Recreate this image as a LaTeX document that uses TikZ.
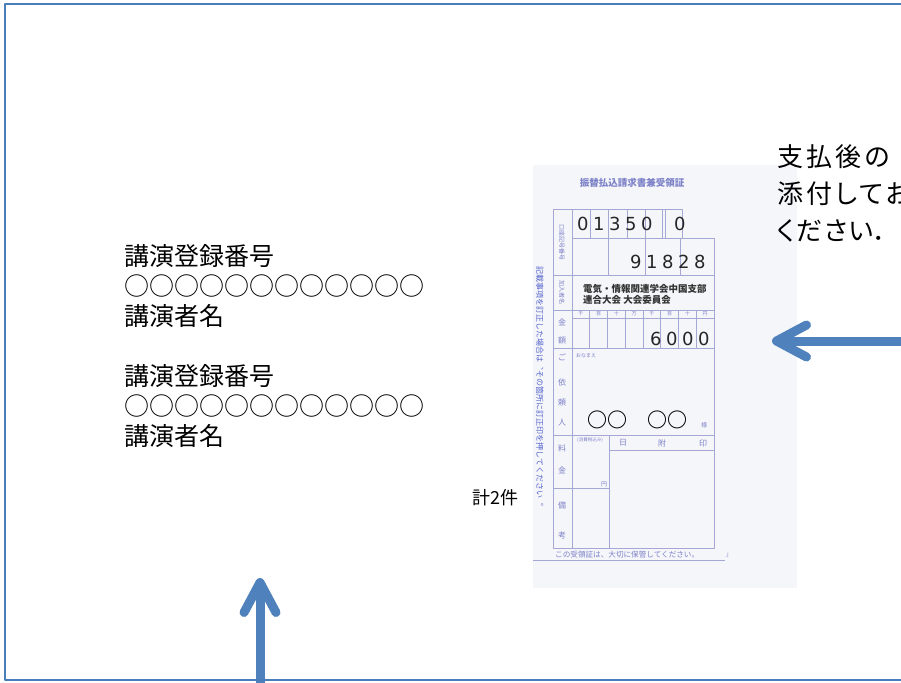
\documentclass[tikz,border=0pt]{standalone}
\usepackage{fontspec}
\setmainfont{Noto Sans CJK JP}
\newfontfamily\jpp[RawFeature=+palt, LetterSpace=12]{Noto Sans CJK JP}
\newfontfamily\jpq[RawFeature=+palt, LetterSpace=5]{Noto Sans CJK JP}
\newfontfamily\jpv[Vertical=RotatedGlyphs, RawFeature=+vert]{Noto Sans CJK JP}
\newfontfamily\numfont[LetterSpace=25]{DejaVu Sans}
\usetikzlibrary{arrows.meta}
\definecolor{frameblue}{RGB}{74,126,187}
\definecolor{arrowblue}{RGB}{79,129,189}
\definecolor{paper}{RGB}{245,246,250}
\definecolor{formline}{RGB}{165,168,212}
\definecolor{formtxt}{RGB}{125,130,200}
\definecolor{noteblue}{RGB}{85,100,205}

\begin{document}
\begin{tikzpicture}[x=1pt, y=-1pt, line join=round,
    frm/.style={draw=frameblue, line width=2pt},
    bigarrow/.style={draw=arrowblue, line width=9pt, -{Straight Barb[length=30pt, width=32pt, round]}},
    lbl/.style={inner sep=0pt, anchor=base west, font=\fontsize{25}{30}\selectfont},
    msg/.style={inner sep=0pt, anchor=base west, font=\jpp\fontsize{26}{30}\selectfont},
    cnt/.style={inner sep=0pt, anchor=base west, font=\fontsize{18}{20}\selectfont},
    grid/.style={draw=formline, line width=0.8pt},
    tag/.style={inner sep=0pt, text=formtxt, font=\fontsize{8}{8}\selectfont},
    vtag/.style={inner sep=0pt, text=formtxt, rotate=-90, font=\jpv\fontsize{6}{6}\selectfont},
    num/.style={inner sep=0pt, anchor=base west, text=black!85, font=\numfont\fontsize{18}{18}\selectfont},
    addr/.style={inner sep=0pt, anchor=base west, text=black!80, font=\bfseries\fontsize{9.5}{9.5}\selectfont}]
    \useasboundingbox (0,0) rectangle (901,682);
    \clip (0,0) rectangle (901,682);
    \fill[white] (0,0) rectangle (901,682);
    \fill[paper] (533,165) rectangle (797,588);

    \node[tag, font=\bfseries\fontsize{9.5}{9.5}\selectfont] (title) at (632,183) {振替払込請求書兼受領証};

    \draw[grid] (553,209) -- (682,209) -- (682,238) -- (714,238) -- (714,548) -- (553,548) -- cycle;
    \draw[grid] (572,209) -- (572,548);
    \draw[grid] (572,238) -- (682,238);
    \draw[grid] (553,275) -- (714,275);
    \draw[grid] (553,310) -- (714,310);
    \draw[grid] (572,318) -- (714,318);
    \draw[grid] (553,348) -- (714,348);
    \draw[grid] (553,435) -- (714,435);
    \draw[grid] (553,488) -- (609,488);
    \draw[grid] (609,435) -- (609,548);
    \draw[grid] (609,450) -- (714,450);
    \foreach \x in {590,608,627,645,662,665}
        \draw[grid] (\x,209) -- (\x,238);
    \foreach \x in {608,645,680}
        \draw[grid] (\x,238) -- (\x,275);
    \foreach \k in {1,...,7}
        \draw[grid] (572+17.75*\k,310) -- (572+17.75*\k,348);

    \node[vtag] (acct) at (562,242) {口座記号番号};
    \node[vtag] (payee) at (562,292) {加入者名};
    \node[tag] (kin1) at (562,322) {金};
    \node[tag] (gaku) at (562,340) {額};
    \node[tag] (go) at (562,357) {ご};
    \node[tag] (irai1) at (562,382) {依};
    \node[tag] (irai2) at (562,402) {頼};
    \node[tag] (irai3) at (562,423) {人};
    \node[tag] (ryo) at (562,448) {料};
    \node[tag] (kin2) at (562,470) {金};
    \node[tag] (bi) at (562,505) {備};
    \node[tag] (ko) at (562,535) {考};
    \foreach \u [count=\k from 0] in {千,百,十,万,千,百,十,円}
        \node[tag, font=\fontsize{5}{5}\selectfont] (unit\k) at (580.9+17.75*\k,314) {\u};
    \node[tag, anchor=west, font=\fontsize{5}{5}\selectfont] (yomi) at (576,356) {おなまえ};
    \node[tag, font=\fontsize{6}{6}\selectfont] (sama) at (704,425) {様};
    \node[tag, font=\fontsize{4.5}{4.5}\selectfont] (tax) at (590,440) {(消費税込み)};
    \node[tag, font=\fontsize{6}{6}\selectfont] (yen) at (604,484) {円};
    \node[tag] (hi) at (623,443) {日};
    \node[tag] (fu) at (662,443) {附};
    \node[tag] (in) at (703,443) {印};
    \node[tag, rotate=-90, text=noteblue, font=\jpv\fontsize{8}{8}\selectfont] (note) at (540,386) {記載事項を訂正した場合は、その箇所に訂正印を押してください。};
    \node[tag, anchor=west, font=\fontsize{7.6}{7.6}\selectfont] (keep) at (555,555) {この受領証は、大切に保管してください。};
    \draw[grid] (533,560) -- (725,560);
    \node[tag, font=\fontsize{6}{6}\selectfont] (hook) at (729,555) {」};

    \node[num] (d1) at (577,230) {01350};
    \node[num] (d2) at (674,230) {0};
    \node[num] (d3) at (630,268) {91828};
    \node[num] (d4) at (650,345) {6000};
    \node[addr] (a1) at (583,292) {電気・情報関連学会中国支部};
    \node[addr] (a2) at (583,303) {連合大会\ 大会委員会};
    \node[inner sep=0pt, anchor=base west, font=\bfseries\fontsize{20}{20}\selectfont] (who) at (587,427) {○○　○○};

    \node[lbl] (n1) at (124,265) {講演登録番号};
    \node[lbl] (c1) at (124,295) {○○○○○○○○○○○○};
    \node[lbl] (s1) at (124,325) {講演者名};
    \node[lbl] (n2) at (124,385) {講演登録番号};
    \node[lbl] (c2) at (124,415) {○○○○○○○○○○○○};
    \node[lbl] (s2) at (124,445) {講演者名};

    \node[cnt] (total) at (472,504) {計2件};

    \node[msg] (m1) at (777,166) {支払後の};
    \node[msg] (m2) at (777,203) {添付してお};
    \node[msg, font=\jpq\fontsize{26}{30}\selectfont] (m3) at (777,240) {ください．};

    \coordinate (p1) at (772,341);
    \coordinate (p1s) at (915,341);
    \coordinate (p2) at (260,578);
    \coordinate (p2s) at (260,695);
    \draw[bigarrow] (p1s) -- (p1);
    \draw[bigarrow] (p2s) -- (p2);

    \draw[frm] (915,4) -- (5,4) -- (5,680) -- (915,680);
\end{tikzpicture}
\end{document}
